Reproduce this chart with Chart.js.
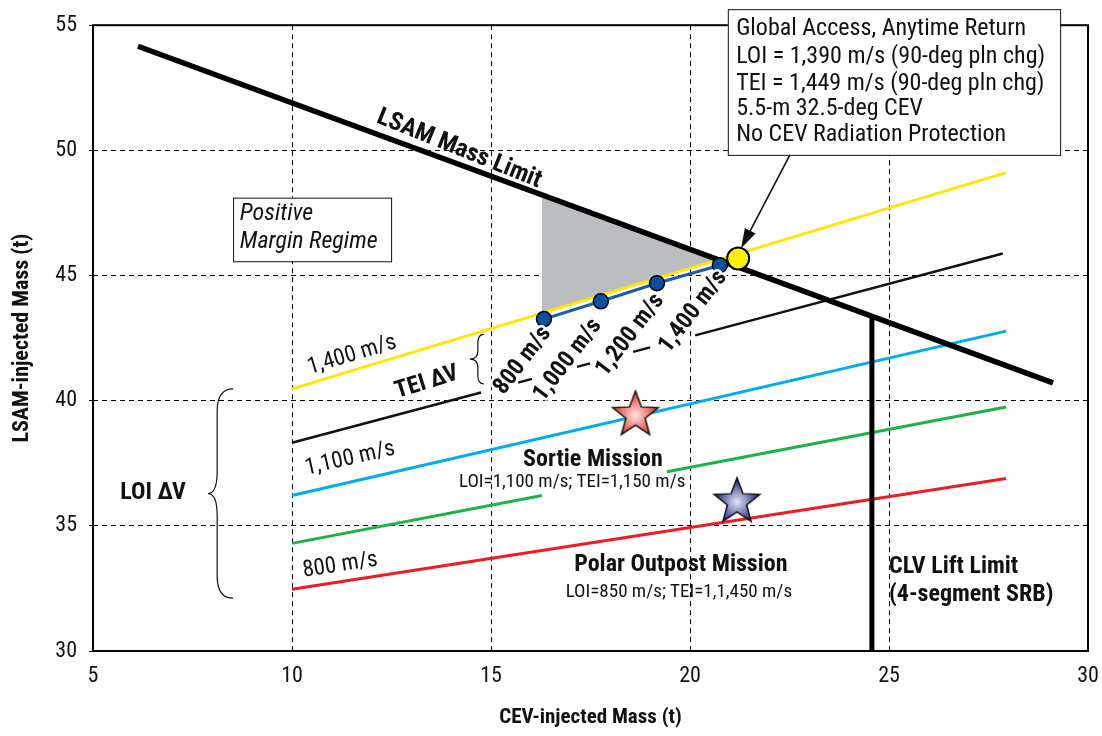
<!DOCTYPE html>
<html>
<head>
<meta charset="utf-8">
<script src="https://cdn.jsdelivr.net/npm/chart.js@4.4.0/dist/chart.umd.min.js"></script>
<style>
  html, body { margin: 0; padding: 0; background: #fff; }
</style>
</head>
<body>
<canvas id="myChart" width="1102" height="736"></canvas>
<script>
const FONT = '"Roboto Condensed", Roboto, "Liberation Sans", sans-serif';

// x = CEV-injected mass (t), y = LSAM-injected mass (t)
const lsamLimit = [[6.13, 54.16], [29.12, 40.71]];
const tei1400 = [[10, 40.47], [27.94, 49.11]];           // yellow, 1,400 m/s
const teiLine = [[10, 38.32], [14.75, 40.33], [15.2, null],
                 [15.68, 40.72], [16.03, 40.87], [16.5, null],
                 [17.16, 41.35], [17.49, 41.49], [18.0, null],
                 [18.57, 41.95], [19.0, 42.13], [19.5, null],
                 [20.13, 42.61], [27.86, 45.88]];
const loi1100 = [[10, 36.21], [27.94, 42.78]];           // cyan
const loiMid = [[10, 34.30], [16.28, 36.21], [17.8, null], [19.42, 37.16], [27.94, 39.75]];  // green
const loi800 = [[10, 32.47], [27.94, 36.89]];            // red
const clvLimit = [[24.57, 30], [24.57, 43.42]];
const marginRegion = [[16.28, 48.11], [16.28, 43.5], [20.75, 45.65], [16.28, 48.11]];
const teiPoints = [[16.33, 43.26], [17.76, 43.97], [19.17, 44.69], [20.75, 45.41]];
const teiPointLabels = ['800 m/s', '1,000 m/s', '1,200 m/s', '1,400 m/s'];
const teiLabelPos = [[15.8, 41.6], [16.93, 41.62], [18.5, 42.62], [20.08, 43.55]];
const globalPoint = [[21.21, 45.68]];
const sortiePoint = [[18.63, 39.52]];
const outpostPoint = [[21.18, 36.05]];

const xMin = 5, xMax = 30, yMin = 30, yMax = 55, step = 5;

const globalText = ['Global Access, Anytime Return', 'LOI = 1,390 m/s (90-deg pln chg)',
  'TEI = 1,449 m/s (90-deg pln chg)', '5.5-m 32.5-deg CEV', 'No CEV Radiation Protection'];

function pts(arr) {
  return arr.map(p => ({ x: p[0], y: p[1] }));
}

function makeStar(outer, inner, r) {
  const c = document.createElement('canvas');
  const s = Math.ceil(r * 2 + 6);
  c.width = s; c.height = s;
  const g = c.getContext('2d');
  const cx = s / 2, cy = s / 2 + 0.0955 * r;
  g.beginPath();
  for (let i = 0; i < 10; i++) {
    const rr = i % 2 === 0 ? r : r * 0.42;
    const a = -Math.PI / 2 + i * Math.PI / 5;
    g.lineTo(cx + rr * Math.cos(a), cy + rr * Math.sin(a));
  }
  g.closePath();
  const grad = g.createRadialGradient(cx, cy, 0, cx, cy, r * 0.85);
  grad.addColorStop(0, inner);
  grad.addColorStop(1, outer);
  g.fillStyle = grad;
  g.fill();
  g.lineWidth = 1.5;
  g.strokeStyle = '#111';
  g.stroke();
  return c;
}

function lineSet(data, color, width, order) {
  return {
    data: pts(data), showLine: true, borderColor: color, borderWidth: width,
    pointRadius: 0, spanGaps: false, order: order, borderCapStyle: 'butt'
  };
}

function brace(ctx, xe, xs, xt, y0, ym, y1) {
  const r = Math.abs(xe - xs);
  ctx.beginPath();
  ctx.moveTo(xe, y0);
  ctx.quadraticCurveTo(xs, y0, xs, y0 + r * 1.4);
  ctx.lineTo(xs, ym - r * 1.4);
  ctx.quadraticCurveTo(xs, ym, xt, ym);
  ctx.quadraticCurveTo(xs, ym, xs, ym + r * 1.4);
  ctx.lineTo(xs, y1 - r * 1.4);
  ctx.quadraticCurveTo(xs, y1, xe, y1);
  ctx.stroke();
}

const annotations = {
  id: 'annotations',
  beforeDatasetsDraw(chart) {
    const { ctx, chartArea: a } = chart;
    ctx.save();
    ctx.lineWidth = 2;
    ctx.strokeStyle = '#000';
    ctx.strokeRect(a.left, a.top, a.right - a.left, a.bottom - a.top);
    ctx.restore();
  },
  afterDatasetsDraw(chart) {
    const { ctx } = chart;
    const xs = chart.scales.x, ys = chart.scales.y;
    const X = v => xs.getPixelForValue(v);
    const Y = v => ys.getPixelForValue(v);
    const slope = line => Math.atan2(Y(line[1][1]) - Y(line[0][1]), X(line[1][0]) - X(line[0][0]));

    function text(s, x, y, opts) {
      opts = opts || {};
      ctx.save();
      ctx.translate(X(x), Y(y));
      if (opts.angle) ctx.rotate(opts.angle);
      ctx.font = opts.font || ('23px ' + FONT);
      ctx.textAlign = opts.align || 'center';
      ctx.textBaseline = 'middle';
      if (opts.halo) {
        ctx.lineWidth = opts.halo;
        ctx.strokeStyle = '#fff';
        ctx.lineJoin = 'round';
        ctx.strokeText(s, 0, 0);
      }
      ctx.fillStyle = opts.color || '#111';
      ctx.fillText(s, 0, 0);
      ctx.restore();
    }

    const bold = 'bold 24px ' + FONT;
    const small = '19px ' + FONT;

    text('LSAM Mass Limit', 14.2, 50.05, { font: 'bold 25px ' + FONT, angle: slope(lsamLimit) + 0.03 });
    text('1,400 m/s', 11.51, 41.82, { angle: slope(tei1400) });
    text('TEI \u2206V', 13.39, 40.72, { font: bold, angle: -0.3 });
    text('1,100 m/s', 11.46, 37.68, { angle: slope(loi1100) });
    text('800 m/s', 11.21, 33.42, { angle: slope(loi800) });
    text('LOI \u2206V', 6.51, 36.33, { font: bold });

    teiPointLabels.forEach((s, i) => {
      text(s, teiLabelPos[i][0], teiLabelPos[i][1], { font: bold, angle: -0.92, halo: 5 });
    });

    text('Sortie Mission', 17.56, 37.64, { font: bold });
    text('LOI=1,100 m/s; TEI=1,150 m/s', 17.04, 36.73, { font: small });
    text('Polar Outpost Mission', 19.77, 33.42, { font: bold });
    text('LOI=850 m/s; TEI=1,1,450 m/s', 19.72, 32.35, { font: small });
    text('CLV Lift Limit', 25.0, 33.34, { font: bold, align: 'left' });
    text('(4-segment SRB)', 25.0, 32.23, { font: bold, align: 'left' });

    // braces
    ctx.save();
    ctx.strokeStyle = '#111';
    ctx.lineWidth = 1.2;
    brace(ctx, X(8.52), X(8.12), X(7.89), Y(40.47), Y(36.29), Y(32.11));
    brace(ctx, X(14.82), X(14.67), X(14.47), Y(42.65), Y(41.66), Y(40.67));
    ctx.restore();

    // positive margin box
    ctx.save();
    ctx.fillStyle = '#fff';
    ctx.strokeStyle = '#111';
    ctx.lineWidth = 1;
    const bx = X(8.52), by = Y(48.11);
    ctx.fillRect(bx, by, X(12.49) - bx, Y(45.57) - by);
    ctx.strokeRect(bx + 0.5, by + 0.5, X(12.49) - bx, Y(45.57) - by);
    ctx.restore();
    text('Positive', 8.69, 47.44, { font: 'italic 24px ' + FONT, align: 'left' });
    text('Margin Regime', 8.69, 46.32, { font: 'italic 24px ' + FONT, align: 'left' });

    // global access callout
    ctx.save();
    ctx.fillStyle = '#fff';
    ctx.strokeStyle = '#111';
    ctx.lineWidth = 1;
    const gx = X(20.95), gy = Y(55.64);
    ctx.fillRect(gx, gy, X(29.30) - gx, Y(49.82) - gy);
    ctx.strokeRect(gx + 0.5, gy + 0.5, X(29.30) - gx, Y(49.82) - gy);
    const ax0 = X(22.51), ay0 = Y(49.82), ax1 = X(21.28), ay1 = Y(46.08);
    const ang = Math.atan2(ay1 - ay0, ax1 - ax0);
    const hl = 20, hw = 6;
    ctx.lineWidth = 1.6;
    ctx.beginPath();
    ctx.moveTo(ax0, ay0);
    ctx.lineTo(ax1 - hl * Math.cos(ang), ay1 - hl * Math.sin(ang));
    ctx.stroke();
    ctx.fillStyle = '#111';
    ctx.beginPath();
    ctx.moveTo(ax1, ay1);
    ctx.lineTo(ax1 - hl * Math.cos(ang) + hw * Math.sin(ang), ay1 - hl * Math.sin(ang) - hw * Math.cos(ang));
    ctx.lineTo(ax1 - hl * Math.cos(ang) - hw * Math.sin(ang), ay1 - hl * Math.sin(ang) + hw * Math.cos(ang));
    ctx.closePath();
    ctx.fill();
    ctx.restore();
    const gyLines = [54.84, 53.73, 52.65, 51.66, 50.62];
    globalText.forEach((s, i) => text(s, 21.16, gyLines[i], { font: '24px ' + FONT, align: 'left' }));
  }
};

const ctx = document.getElementById('myChart').getContext('2d');

const chart = new Chart(ctx, {
  type: 'scatter',
  data: {
    datasets: [
      Object.assign(lineSet(marginRegion, 'rgba(0,0,0,0)', 0, 20), { fill: 'shape', backgroundColor: '#bcbdc0' }),
      lineSet(tei1400, '#ffe800', 3, 8),
      lineSet(teiLine, '#111', 2.5, 9),
      lineSet(loi1100, '#00aeef', 3, 10),
      lineSet(loiMid, '#1db34a', 3, 11),
      lineSet(loi800, '#ee1d23', 3, 12),
      lineSet(lsamLimit, '#000', 5.5, 5),
      lineSet(clvLimit, '#000', 5, 6),
      {
        data: pts(teiPoints), showLine: true, borderColor: '#1a5ca8', borderWidth: 3,
        pointRadius: 7.5, pointBackgroundColor: '#0b4f9f', pointBorderColor: '#000',
        pointBorderWidth: 1.5, order: 3
      },
      {
        data: pts(globalPoint), pointRadius: 11, pointBackgroundColor: '#fff200',
        pointBorderColor: '#000', pointBorderWidth: 2, order: 1
      },
      { data: pts(sortiePoint), pointStyle: makeStar('#e8453c', '#fde6e2', 24), order: 2 },
      { data: pts(outpostPoint), pointStyle: makeStar('#2f3c8c', '#e4e6f4', 24), order: 2 }
    ]
  },
  options: {
    responsive: false,
    animation: false,
    devicePixelRatio: 1,
    layout: { padding: { top: 23, right: 14, left: 0, bottom: 0 } },
    plugins: {
      legend: { display: false },
      tooltip: { enabled: false }
    },
    scales: {
      x: {
        type: 'linear', min: xMin, max: xMax,
        afterFit: scale => { scale.height = 85; scale.paddingRight = 0; scale.paddingLeft = 0; },
        ticks: { stepSize: step, color: '#111', padding: 12, font: { family: FONT, size: 22 } },
        grid: { color: '#000', lineWidth: 1, drawTicks: false },
        border: { display: false, dash: [5, 4] },
        title: {
          display: true, text: 'CEV-injected Mass (t)', color: '#111',
          font: { family: FONT, size: 21, weight: 'bold' }, padding: { bottom: 6 }
        }
      },
      y: {
        type: 'linear', min: yMin, max: yMax,
        afterFit: scale => { scale.width = 93; },
        ticks: { stepSize: step, color: '#111', padding: 12, font: { family: FONT, size: 22 } },
        grid: { color: '#000', lineWidth: 1, tickLength: 4, tickColor: '#000', tickBorderDash: [] },
        border: { display: false, dash: [5, 4] },
        title: {
          display: true, text: 'LSAM-injected Mass (t)', color: '#111',
          font: { family: FONT, size: 22, weight: 'bold' }, padding: { top: 9 }
        }
      }
    }
  },
  plugins: [annotations]
});
</script>
</body>
</html>
